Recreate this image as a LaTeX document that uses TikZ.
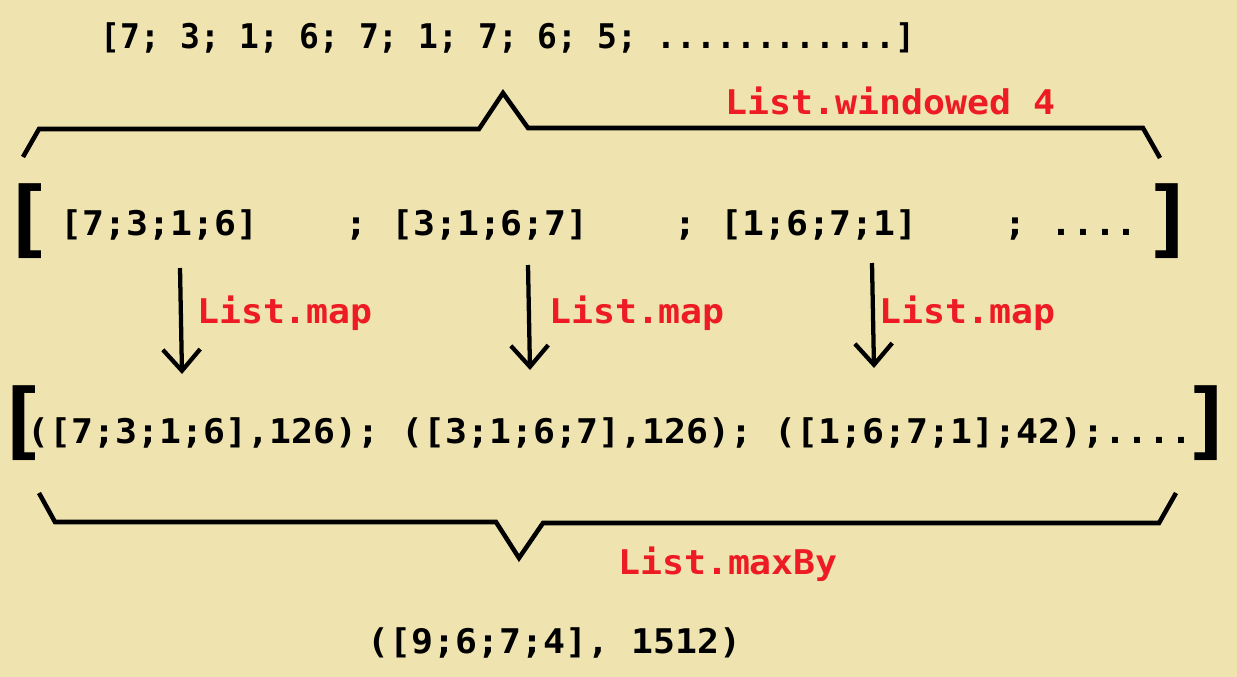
\documentclass[tikz,border=0pt]{standalone}
\usepackage{fontspec}
\usetikzlibrary{arrows.meta}
\newfontfamily\codefont{DejaVu Sans Mono Bold}[FakeStretch=1.074]
\newfontfamily\listfont{DejaVu Sans Mono Bold}[FakeStretch=0.97]
\definecolor{paper}{RGB}{239,228,176}
\definecolor{fnred}{RGB}{237,28,36}
\tikzset{
  code/.style={font=\codefont\fontsize{25.5}{30}\selectfont, inner sep=0pt, anchor=base},
  fn/.style={code, text=fnred},
  bigbr/.style={font=\codefont\fontsize{63}{70}\selectfont, inner sep=0pt},
  brace/.style={line width=3.4pt},
  maparrow/.style={line width=3.2pt, -{Straight Barb[length=16pt,width=28pt]}}
}
\begin{document}
\begin{tikzpicture}[x=0.75pt, y=-0.75pt]
  \fill[paper] (0,0) rectangle (1237,677);
  \useasboundingbox (0,0) rectangle (1237,677);
  % input list
  \node[code, font=\listfont\fontsize{25.5}{30}\selectfont] (input) at (508,49) {[7; 3; 1; 6; 7; 1; 7; 6; 5; ............]};
  \node[fn] (win) at (890.5,115) {List.windowed 4};
  \draw[brace] (23,157) -- (39,129) -- (479,129) -- (503,93) -- (528,128) -- (1143,128) -- (1160,158);
  % windows
  \node[bigbr] (wl) at (27.5,221) {\makebox[0.3em]{[}};
  \node[code] (w1) at (159.5,235) {[7;3;1;6]};
  \node[code] (s1) at (356,235) {;};
  \node[code] (w2) at (490,235) {[3;1;6;7]};
  \node[code] (s2) at (685,235) {;};
  \node[code] (w3) at (819,235) {[1;6;7;1]};
  \node[code] (s3) at (1015,235) {;};
  \node[code] (w4) at (1094,235) {....};
  \node[bigbr] (wr) at (1170,221) {\makebox[0.3em]{]}};
  % map arrows
  \coordinate (top1) at (180,268);
  \coordinate (bot1) at (182,374);
  \coordinate (top2) at (528,265);
  \coordinate (bot2) at (530,370);
  \coordinate (top3) at (872,263);
  \coordinate (bot3) at (874,368);
  \draw[maparrow] (top1) -- (bot1);
  \draw[maparrow] (top2) -- (bot2);
  \draw[maparrow] (top3) -- (bot3);
  \node[fn] (map1) at (285,323) {List.map};
  \node[fn] (map2) at (637,323) {List.map};
  \node[fn] (map3) at (967.5,323) {List.map};
  % pairs
  \node[bigbr] (pl) at (22,423) {\makebox[0.3em]{[}};
  \node[code] (pairs) at (610,443) {([7;3;1;6],126); ([3;1;6;7],126); ([1;6;7;1];42);....};
  \node[bigbr] (pr) at (1209,423) {\makebox[0.3em]{]}};
  \draw[brace] (39,493) -- (55,522) -- (496,522) -- (519,558) -- (543,523) -- (1159,523) -- (1176,493);
  \node[fn] (maxby) at (728,574) {List.maxBy};
  % result
  \node[code] (result) at (554.5,653) {([9;6;7;4], 1512)};
\end{tikzpicture}
\end{document}
